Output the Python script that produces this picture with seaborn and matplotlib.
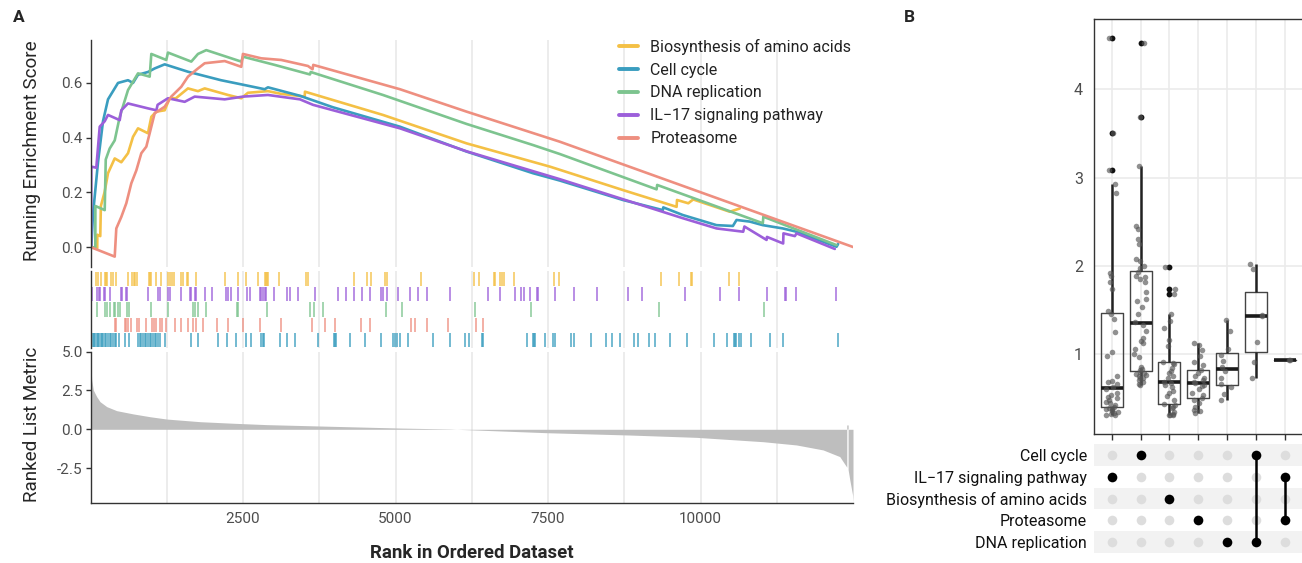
import numpy as np
import pandas as pd
import seaborn as sns
import matplotlib.pyplot as plt
from matplotlib.ticker import FixedLocator

sns.set_theme(style="white")
plt.rcParams['font.family'] = ['Roboto', 'DejaVu Sans']
plt.rcParams['axes.unicode_minus'] = False

# ---- gene sets (legend order) ----
set_names = ["Biosynthesis of amino acids", "Cell cycle", "DNA replication",
             "IL\u221217 signaling pathway", "Proteasome"]
set_colors = ["#F4C045", "#3A9DBF", "#7DC48F", "#9C5FDA", "#EE8F80"]

# ---- running enrichment score (rank, ES) ----
bio_rank = [0, 110, 112, 160, 170, 230, 287, 397, 505, 615, 697, 779, 942, 997, 1078, 1216, 1298,
            1400, 1598, 1762, 1872, 2254, 2472, 2581, 2909, 3127, 3511, 3516, 4794, 6166, 7531,
            8733, 9608, 9615, 9800, 9880, 10481, 10645]
bio_es = [0.0, -0.004, 0.045, 0.04, 0.15, 0.20, 0.27, 0.324, 0.31, 0.343, 0.403, 0.434, 0.416,
          0.476, 0.495, 0.50, 0.544, 0.544, 0.58, 0.57, 0.58, 0.556, 0.544, 0.564, 0.57, 0.56,
          0.55, 0.568, 0.483, 0.379, 0.294, 0.208, 0.147, 0.172, 0.160, 0.174, 0.129, 0.141]

cc_rank = [0, 13, 41, 123, 205, 287, 369, 451, 615, 697, 779, 942, 1052, 1216, 1598, 2139, 2467,
           2855, 2909, 3434, 3975, 5073, 6166, 7253, 7695, 8728, 9383, 9390, 9711, 10263, 10531,
           10591, 10809, 11022, 11350, 11574, 12230, 12256]
cc_es = [0.0, 0.0, 0.12, 0.31, 0.46, 0.54, 0.57, 0.60, 0.61, 0.60, 0.63, 0.64, 0.653, 0.668, 0.641,
         0.61, 0.595, 0.577, 0.584, 0.553, 0.511, 0.44, 0.349, 0.27, 0.243, 0.172, 0.135, 0.145,
         0.117, 0.080, 0.077, 0.099, 0.093, 0.080, 0.068, 0.056, 0.001, 0.011]

dna_rank = [0, 79, 80, 233, 250, 314, 397, 479, 615, 779, 970, 997, 1242, 1270, 1652, 1762, 1898,
            2472, 2499, 3019, 3598, 3610, 4794, 6166, 7253, 7695, 9280, 9290, 11022, 11030, 12230]
dna_es = [0.0, -0.002, 0.15, 0.135, 0.32, 0.36, 0.39, 0.476, 0.574, 0.635, 0.623, 0.706, 0.684,
          0.711, 0.678, 0.706, 0.72, 0.678, 0.696, 0.666, 0.631, 0.64, 0.556, 0.45, 0.373, 0.34,
          0.211, 0.227, 0.087, 0.111, 0.007]

il17_rank = [0, 10, 13, 95, 151, 233, 287, 479, 505, 615, 942, 1080, 1100, 1270, 1544, 1708, 2200,
             2500, 2909, 3434, 3647, 5073, 6166, 7695, 9716, 10263, 10700, 10720, 11083, 11090,
             11355, 11360, 11547, 11574, 12202]
il17_es = [0.0, 0.0, 0.294, 0.29, 0.44, 0.46, 0.483, 0.464, 0.50, 0.525, 0.507, 0.50, 0.52, 0.544,
           0.531, 0.55, 0.54, 0.55, 0.556, 0.54, 0.52, 0.434, 0.35, 0.248, 0.105, 0.068, 0.056,
           0.075, 0.026, 0.037, 0.013, 0.05, 0.04, 0.05, -0.007]

prot_rank = [0, 397, 423, 505, 587, 669, 751, 833, 915, 997, 1052, 1216, 1324, 1488, 1598, 1762,
             1872, 2200, 2472, 2499, 2799, 3127, 3565, 3640, 3652, 5073, 6166, 7695, 12502]
prot_es = [0.0, -0.035, 0.068, 0.11, 0.16, 0.233, 0.28, 0.343, 0.367, 0.44, 0.489, 0.513, 0.55,
           0.586, 0.623, 0.653, 0.672, 0.68, 0.659, 0.706, 0.69, 0.684, 0.662, 0.65, 0.666, 0.577,
           0.495, 0.385, 0.0]

# ---- hit positions (rug) ----
bio_hits = [96, 123, 167, 232, 249, 270, 341, 369, 423, 615, 686, 707, 735, 768, 953, 981, 997,
            1079, 1161, 1270, 1303, 1336, 1368, 1489, 1516, 1581, 1598, 1735, 2199, 2417, 2543,
            2745, 2854, 2871, 2893, 2909, 3089, 3537, 3565, 4313, 4537, 4592, 4832, 4865, 5422,
            6286, 6368, 6613, 6630, 6706, 6750, 6772, 6947, 7602, 7684, 9345, 9651, 9837, 9858,
            10470, 10634]
il17_hits = [3, 25, 112, 134, 150, 221, 243, 314, 505, 522, 576, 604, 942, 1106, 1134, 1270, 1297,
             1489, 1625, 1653, 1718, 1735, 1871, 1991, 2226, 2253, 2297, 2417, 2570, 2609, 2772,
             2800, 2827, 2854, 2876, 3002, 3220, 3264, 3401, 3674, 4056, 4193, 4313, 4450, 4575,
             4766, 4794, 4865, 5040, 5231, 5368, 5520, 5886, 6510, 6712, 6952, 7050, 7105, 7203,
             7324, 7340, 7619, 7924, 8307, 8809, 9039, 9744, 10317, 10634, 11098, 11388, 11399,
             11563, 12224]
dna_hits = [107, 243, 276, 314, 385, 407, 451, 478, 598, 625, 986, 1270, 1680, 1718, 1762, 1898,
            2401, 2417, 2898, 3592, 3663, 3810, 4838, 5105, 6300, 7214, 9312, 11038]
prot_hits = [396, 423, 560, 587, 615, 658, 768, 795, 915, 1013, 1041, 1068, 1134, 1172, 1243,
             1379, 1489, 1598, 1680, 1735, 1844, 2073, 2253, 2499, 2783, 3128, 3630, 3849, 4013,
             4439, 4575, 5258, 5313, 5520, 5859, 6313, 6439]
cc_hits = [3, 14, 35, 57, 79, 101, 123, 145, 167, 188, 210, 232, 259, 287, 314, 341, 369, 396, 423,
           462, 560, 625, 778, 806, 833, 860, 888, 915, 942, 970, 997, 1024, 1052, 1079, 1106,
           1134, 1215, 1653, 1762, 2090, 2237, 2390, 2554, 2636, 2800, 2827, 2843, 3100, 3226,
           3357, 3728, 3991, 4013, 4029, 4247, 4493, 4766, 4958, 4996, 5029, 5067, 5204, 5613,
           5886, 6132, 6198, 6417, 6428, 7160, 7247, 7269, 7285, 7449, 7586, 7613, 7870, 7924,
           8198, 8449, 8547, 8678, 8908, 8968, 9159, 9257, 9498, 9782, 10219, 10437, 10547,
           10569, 10590, 10623, 10672, 10825, 11142, 11355, 12262]

# ---- ranked list metric ----
metric_rank = [1, 20, 46, 102, 156, 266, 429, 701, 975, 1249, 1795, 2336, 2888, 3975, 5073, 5892,
               6002, 7477, 8843, 9936, 11027, 11574, 12010, 12283, 12393, 12398, 12398, 12420,
               12420, 12448, 12493, 12500]
metric = [4.6, 3.17, 2.53, 2.1, 1.78, 1.46, 1.2, 0.99, 0.81, 0.66, 0.49, 0.39, 0.30, 0.19, 0.08,
          0.02, 0.0, -0.22, -0.37, -0.52, -0.80, -1.01, -1.33, -1.76, -2.41, -2.45, 0.28, 0.28,
          -2.6, -3.27, -4.23, -4.7]

# ---- panel B: gene values per intersection ----
box_groups = ["IL-17", "CC", "Bio", "Prot", "DNA", "CC+DNA", "IL-17+Prot"]
il17_vals = [0.30, 0.31, 0.32, 0.33, 0.34, 0.35, 0.36, 0.37, 0.38, 0.385, 0.40, 0.42, 0.44, 0.45,
             0.47, 0.50, 0.51, 0.53, 0.56, 0.60, 0.62, 0.66, 0.68, 0.69, 0.75, 0.97, 1.02, 1.25,
             1.40, 1.45, 1.48, 1.73, 1.81, 1.88, 1.92, 2.82, 2.93, 3.09, 3.51, 4.58]
cc_vals = [0.65, 0.66, 0.68, 0.70, 0.72, 0.73, 0.75, 0.76, 0.77, 0.78, 0.79, 0.81, 0.83, 0.85,
           0.96, 1.00, 1.05, 1.12, 1.15, 1.18, 1.26, 1.33, 1.36, 1.45, 1.53, 1.60, 1.62, 1.70,
           1.82, 1.85, 1.87, 1.88, 1.93, 1.97, 2.00, 2.05, 2.08, 2.25, 2.30, 2.42, 2.45, 3.13,
           3.69, 4.53]
bio_vals = [0.30, 0.30, 0.31, 0.32, 0.34, 0.38, 0.40, 0.42, 0.43, 0.48, 0.52, 0.55, 0.58, 0.62,
            0.65, 0.67, 0.68, 0.72, 0.75, 0.78, 0.80, 0.84, 0.88, 0.90, 0.91, 1.09, 1.16, 1.29,
            1.37, 1.45, 1.68, 1.73, 1.98]
prot_vals = [0.33, 0.35, 0.36, 0.40, 0.44, 0.47, 0.50, 0.53, 0.56, 0.60, 0.63, 0.65, 0.667, 0.68,
             0.70, 0.72, 0.75, 0.78, 0.81, 0.87, 0.91, 0.97, 1.04, 1.10, 1.12]
dna_vals = [0.47, 0.54, 0.62, 0.66, 0.72, 0.80, 0.85, 0.92, 0.99, 1.05, 1.26, 1.38]
cc_dna_vals = [0.72, 0.906, 1.13, 1.43, 1.44, 1.96, 2.02]
il17_prot_vals = [0.925, 0.925]

# upset matrix: rows top to bottom, members of each column
upset_rows = ["Cell cycle", "IL\u221217 signaling pathway", "Biosynthesis of amino acids",
              "Proteasome", "DNA replication"]
upset_members = [[1], [0], [2], [3], [4], [0, 4], [1, 3]]

# ---------------------------------------------------------------------------
W, H = 1302, 563
fig = plt.figure(figsize=(W / 100, H / 100), dpi=100)


def fbox(x0, y0, x1, y1):
    return [x0 / W, 1 - y1 / H, (x1 - x0) / W, (y1 - y0) / H]


ax_es = fig.add_axes(fbox(90.5, 40, 853, 267))
ax_rug = fig.add_axes(fbox(90.5, 271, 853, 348))
ax_rank = fig.add_axes(fbox(90.5, 351.7, 853, 503))

grid_kw = dict(color="#EBEBEB", lw=1.3)
tick_color = "#4D4D4D"
spine_color = "#333333"

for ax in (ax_es, ax_rug, ax_rank):
    ax.set_xlim(0, 12500)
    ax.xaxis.set_major_locator(FixedLocator([2500, 5000, 7500, 10000]))
    ax.xaxis.set_minor_locator(FixedLocator([1250, 3750, 6250, 8750, 11250]))
    ax.grid(axis="x", which="both", **grid_kw)
    ax.set_axisbelow(True)
    for s in ("top", "right", "bottom"):
        ax.spines[s].set_visible(False)
    ax.spines["left"].set_color(spine_color)
    ax.spines["left"].set_linewidth(1.0)
    ax.tick_params(axis="x", which="both", length=0, labelbottom=False)
    ax.tick_params(axis="y", length=3.5, width=1.0, color=spine_color, labelsize=11,
                   labelcolor=tick_color, pad=2, left=True)

# running enrichment score
es_df = pd.concat([
    pd.DataFrame({"rank": r, "es": e, "set": n})
    for r, e, n in zip([bio_rank, cc_rank, dna_rank, il17_rank, prot_rank],
                       [bio_es, cc_es, dna_es, il17_es, prot_es], set_names)
])
sns.lineplot(data=es_df, x="rank", y="es", hue="set", hue_order=set_names, palette=set_colors,
             sort=False, estimator=None, lw=1.9, ax=ax_es)
ax_es.set_ylim(-0.073, 0.757)
ax_es.set_yticks([0.0, 0.2, 0.4, 0.6])
ax_es.set_yticklabels(["0.0", "0.2", "0.4", "0.6"])
ax_es.set_xlabel("")
ax_es.set_ylabel("")
handles, labels = ax_es.get_legend_handles_labels()
leg = ax_es.legend(handles, labels, loc="upper left", bbox_to_anchor=(619 / W, 1 - 38.5 / H),
                   bbox_transform=fig.transFigure, frameon=False, fontsize=11.5,
                   handlelength=1.2, handletextpad=0.75, labelspacing=0.5, borderpad=0,
                   borderaxespad=0)
for h in leg.legend_handles:
    h.set_linewidth(2.8)
for t in leg.get_texts():
    t.set_color("#222222")

# rug of hits
rug_sets = [(bio_hits, set_colors[0]), (il17_hits, set_colors[3]), (dna_hits, set_colors[2]),
            (prot_hits, set_colors[4]), (cc_hits, set_colors[1])]
for row, (hits, c) in enumerate(rug_sets):
    ax_rug.vlines(hits, row - 0.46, row + 0.46, colors=c, lw=1.1, alpha=0.9)
ax_rug.set_ylim(4.5, -0.5)
ax_rug.set_yticks([])

# ranked list metric
ax_rank.fill_between(metric_rank, 0, metric, color="#BEBEBE", lw=0)
ax_rank.set_ylim(-4.75, 5.0)
ax_rank.set_yticks([-2.5, 0.0, 2.5, 5.0])
ax_rank.set_yticklabels(["-2.5", "0.0", "2.5", "5.0"])
ax_rank.spines["bottom"].set_visible(True)
ax_rank.spines["bottom"].set_color(spine_color)
ax_rank.spines["bottom"].set_linewidth(1.0)
ax_rank.tick_params(axis="x", which="major", length=3.5, width=1.0, color=spine_color,
                    labelbottom=True, labelsize=11, labelcolor=tick_color, pad=3)
ax_rank.set_xticklabels(["2500", "5000", "7500", "10000"])

fig.text(32 / W, 1 - 151 / H, "Running Enrichment Score", rotation=90, ha="center", va="center",
         fontsize=13.6)
fig.text(32 / W, 1 - 424 / H, "Ranked List Metric", rotation=90, ha="center", va="center",
         fontsize=13.6)
fig.text(472 / W, 1 - 553 / H, "Rank in Ordered Dataset", ha="center", va="center",
         fontsize=13.4, weight="bold")

# ---------------- panel B ----------------
ax_box = fig.add_axes(fbox(1094, 19, 1302.7, 434))
ax_up = fig.add_axes(fbox(1094, 444, 1302.7, 553))

box_df = pd.concat([
    pd.DataFrame({"group": g, "value": v})
    for g, v in zip(box_groups, [il17_vals, cc_vals, bio_vals, prot_vals, dna_vals,
                                 cc_dna_vals, il17_prot_vals])
])
sns.boxplot(data=box_df, x="group", y="value", order=box_groups, ax=ax_box, width=0.76,
            fill=False, color="#333333", linewidth=1.0, showcaps=False,
            boxprops=dict(color="#444444", lw=1.0),
            whiskerprops=dict(color="#222222", lw=1.8),
            medianprops=dict(color="#1A1A1A", lw=2.6),
            flierprops=dict(marker="o", markerfacecolor="#111111", markeredgecolor="none",
                            markersize=4.2))
np.random.seed(7)
sns.stripplot(data=box_df, x="group", y="value", order=box_groups, ax=ax_box, color="#555555",
              alpha=0.65, size=4.0, jitter=0.22, linewidth=0)
ax_box.set_xlim(-0.61, 6.61)
ax_box.set_ylim(0.089, 4.80)
ax_box.set_yticks([1, 2, 3, 4])
ax_box.set_yticklabels(["1", "2", "3", "4"])
ax_box.set_xlabel("")
ax_box.set_ylabel("")
ax_box.set_xticklabels([])
ax_box.grid(True, color="#EBEBEB", lw=1.2)
ax_box.set_axisbelow(True)
for s in ("left", "top", "bottom"):
    ax_box.spines[s].set_color(spine_color)
    ax_box.spines[s].set_linewidth(1.0)
ax_box.spines["right"].set_visible(False)
ax_box.tick_params(axis="x", length=4, width=1.0, color=spine_color, bottom=True)
ax_box.tick_params(axis="y", length=0, labelsize=11.5, labelcolor=tick_color, pad=8)

# upset matrix
for i in range(0, len(upset_rows), 2):
    ax_up.axhspan(i - 0.5, i + 0.5, color="#F2F2F2", lw=0, zorder=0)
n_cols = len(upset_members)
cols_all = [c for c in range(n_cols) for r in range(len(upset_rows))]
rows_all = [r for c in range(n_cols) for r in range(len(upset_rows))]
ax_up.scatter(cols_all, rows_all, s=48, color="#DDDDDD", lw=0, zorder=2)
for c, members in enumerate(upset_members):
    if len(members) > 1:
        ax_up.plot([c, c], [min(members), max(members)], color="black", lw=1.8, zorder=3)
    ax_up.scatter([c] * len(members), members, s=48, color="black", lw=0, zorder=4)
ax_up.set_xlim(-0.61, 6.61)
ax_up.set_ylim(len(upset_rows) - 0.5, -0.5)
ax_up.set_xticks([])
ax_up.set_yticks(range(len(upset_rows)))
ax_up.set_yticklabels(upset_rows)
ax_up.tick_params(axis="y", length=0, labelsize=11.5, labelcolor="#111111", pad=5)
for s in ax_up.spines.values():
    s.set_visible(False)

fig.text(19 / W, 1 - 18 / H, "A", weight="bold", fontsize=12.5, ha="center", va="center")
fig.text(909 / W, 1 - 18 / H, "B", weight="bold", fontsize=12.5, ha="center", va="center")

fig.savefig("out.png", dpi=100)
